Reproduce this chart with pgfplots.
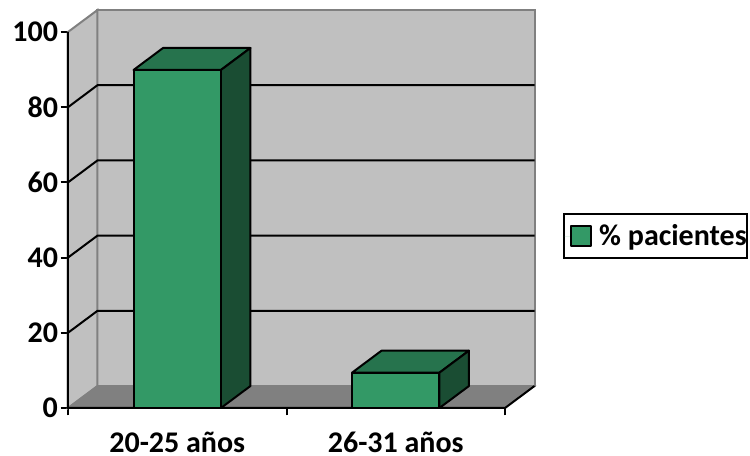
\documentclass[border=0pt]{standalone}
\usepackage{fontspec}
\setmainfont{Carlito}
\usepackage{pgfplots}
\pgfplotsset{compat=1.18}
\definecolor{barfront}{HTML}{339966}
\definecolor{bartop}{HTML}{26734D}
\definecolor{barside}{HTML}{1A4D33}
\definecolor{wall}{HTML}{C0C0C0}
\definecolor{floorc}{HTML}{808080}
\begin{document}
\begin{tikzpicture}
% 750x456 px page, 1 px = 0.75 pt
\useasboundingbox (-51pt,-36pt) rectangle (511.5pt,306pt);
\begin{axis}[
    scale only axis,
    width=349.875pt, height=298.5pt,
    xmin=0, xmax=2.135,
    ymin=0, ymax=105.85,
    clip=false,
    axis lines*=left,
    axis line style={draw=none,-},
    tick align=outside,
    major tick length=5.5pt,
    tick style={black,line width=1.5pt},
    ytick={0,20,40,60,80,100},
    xtick={0,1,2},
    xticklabels={},
    extra x ticks={0.5,1.5},
    extra x tick labels={20-25 años,26-31 años},
    extra x tick style={major tick length=0pt,tick style={draw=none}},
    /pgf/number format/assume math mode=true,
    tick label style={font=\fontsize{22.5}{27}\selectfont\bfseries,black},
    xticklabel style={inner ysep=0pt,yshift=-17.8pt},
    yticklabel style={xshift=1.5pt},
    legend style={at={(axis cs:2.265,51.9)},anchor=north west,
      draw=black,line width=1.5pt,inner xsep=0pt,inner ysep=6pt,
      nodes={inner xsep=0pt},
      font=\fontsize{22.5}{27}\selectfont\bfseries,
      /tikz/every even column/.append style={column sep=7pt}},
    legend image code/.code={
      \path[draw=none] (0pt,0pt) -- (5.25pt,0pt);
      \draw[#1,line width=1.5pt] (5.25pt,-7.5pt) rectangle (20.25pt,7.5pt);},
    ]
% walls and floor
\addplot[forget plot,fill=wall,draw=floorc,line width=1.5pt] coordinates {(0.135,5.85) (2.135,5.85) (2.135,105.85) (0.135,105.85)} -- cycle;
\addplot[forget plot,fill=wall,draw=floorc,line width=1.5pt] coordinates {(0,0) (0.135,5.85) (0.135,105.85) (0,100)} -- cycle;
\addplot[forget plot,fill=floorc,draw=floorc,line width=1pt] coordinates {(0,0) (0.135,5.85) (2.135,5.85) (2,0)} -- cycle;
% grid
\addplot[forget plot,black,line width=1.5pt] coordinates {(0,20) (0.135,25.85) (2.135,25.85)};
\addplot[forget plot,black,line width=1.5pt] coordinates {(0,40) (0.135,45.85) (2.135,45.85)};
\addplot[forget plot,black,line width=1.5pt] coordinates {(0,60) (0.135,65.85) (2.135,65.85)};
\addplot[forget plot,black,line width=1.5pt] coordinates {(0,80) (0.135,85.85) (2.135,85.85)};
% axis lines
\addplot[forget plot,black,line width=1.5pt] coordinates {(0,100) (0,0) (2,0) (2.135,5.85)};
% bar 1
\addplot[forget plot,fill=bartop,draw=black,line width=1.5pt,line join=round] coordinates {(0.30,89.9) (0.435,95.75) (0.835,95.75) (0.70,89.9)} -- cycle;
\addplot[forget plot,fill=barside,draw=black,line width=1.5pt,line join=round] coordinates {(0.70,0) (0.835,5.85) (0.835,95.75) (0.70,89.9)} -- cycle;
\addplot[fill=barfront,draw=black,line width=1.5pt,line join=round] coordinates {(0.30,0) (0.70,0) (0.70,89.9) (0.30,89.9)} -- cycle;
\addlegendentry{\hspace{5.5pt}\% pacientes}
% bar 2
\addplot[forget plot,fill=bartop,draw=black,line width=1.5pt,line join=round] coordinates {(1.30,9.4) (1.435,15.25) (1.835,15.25) (1.70,9.4)} -- cycle;
\addplot[forget plot,fill=barside,draw=black,line width=1.5pt,line join=round] coordinates {(1.70,0) (1.835,5.85) (1.835,15.25) (1.70,9.4)} -- cycle;
\addplot[forget plot,fill=barfront,draw=black,line width=1.5pt,line join=round] coordinates {(1.30,0) (1.70,0) (1.70,9.4) (1.30,9.4)} -- cycle;
\end{axis}
\end{tikzpicture}
\end{document}
